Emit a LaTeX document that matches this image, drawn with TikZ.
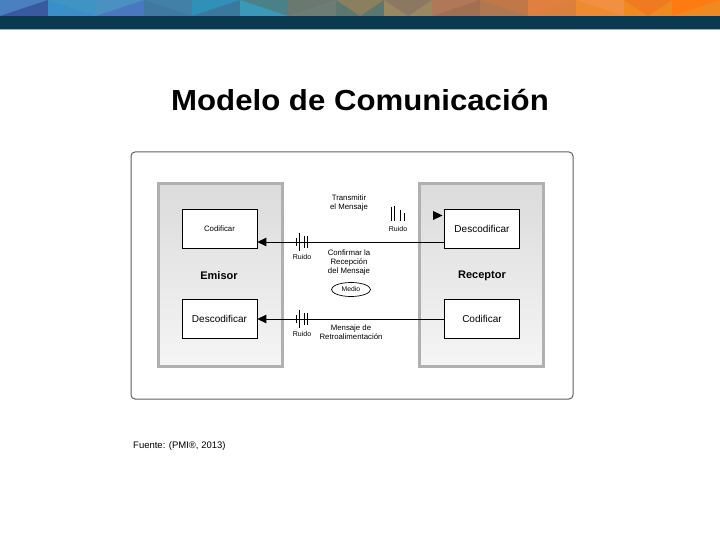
\documentclass[tikz,border=0pt]{standalone}
\usepackage{fontspec}
\setmainfont{Liberation Sans}
\usetikzlibrary{arrows.meta,shapes.geometric}
\definecolor{navy}{HTML}{0B3A50}
\definecolor{framegray}{HTML}{606060}
\definecolor{panelborder}{HTML}{B0B0B0}
\begin{document}
\begin{tikzpicture}[x=1pt,y=-1pt,
  panel/.style={draw=panelborder,line width=3pt,top color=black!14,bottom color=black!4,minimum width=124,minimum height=182,inner sep=0},
  codebox/.style={draw=black,line width=0.7pt,fill=white,minimum width=75,minimum height=39,inner sep=0,font=\fontsize{10}{12}\selectfont},
  small/.style={font=\fontsize{7.8}{9}\selectfont,align=center,inner sep=0},
  role/.style={font=\bfseries\fontsize{11}{13}\selectfont,inner sep=0},
  arr/.style={line width=0.8pt,-{Triangle[length=9pt,width=8.5pt]}},
  noiseline/.pic={\draw[line width=0.8pt] (-6,-4)--(-6,4) (-2.5,-9)--(-2.5,9) (2,-6)--(2,6) (5.5,-6)--(5.5,6);},
  noisetop/.pic={\draw[line width=0.8pt] (-7,-7)--(-7,7) (-3.5,-8)--(-3.5,7) (2,-4)--(2,7) (6,-1)--(6,7);}
]
\useasboundingbox (0,0) rectangle (720,540);
% banner
\foreach \i/\a/\b/\t in {0/4A80C0/3A5AA0/1,1/3A8FC8/4094C4/2,2/4A90C0/4A78C0/1,3/3F78A0/4280A8/2,4/3090B8/3A78A0/1,5/3A98B8/4A8088/2,6/6A7870/6F7C74/1,7/5A7870/8A8060/3,8/9A8860/8A7860/3,9/B07858/A07050/1,10/B07850/C07848/2,11/E08040/D8803C/1,12/F08A30/F09040/2,13/F08A20/F07A20/3,14/FF7A10/F08A20/1}{
  \definecolor{ta}{HTML}{\a}\definecolor{tb}{HTML}{\b}
  \fill[ta] (48*\i,0) rectangle (48*\i+48,16);
  \ifnum\t=1 \fill[tb] (48*\i,16) -- (48*\i+48,0) -- (48*\i+48,16) -- cycle; \fi
  \ifnum\t=2 \fill[tb] (48*\i,0) -- (48*\i+48,0) -- (48*\i+48,16) -- cycle; \fi
  \ifnum\t=3 \fill[tb] (48*\i,0) -- (48*\i+24,16) -- (48*\i+48,0) -- cycle; \fi
}
\fill[navy] (0,16) rectangle (720,29);
\fill[navy!40] (0,29) rectangle (720,30);
% title
\node[font=\bfseries\fontsize{29}{34}\selectfont,inner sep=0,anchor=base] (title) at (360,111) {\scalebox{1.075}[1]{Modelo de Comunicación}};
% frame
\node[draw=framegray,line width=1pt,rounded corners=4pt,minimum width=442,minimum height=247,inner sep=0] (frame) at (352,275.5) {};
% panels
\node[panel] (em) at (220,275) {};
\node[panel] (re) at (481.5,275) {};
\node[role] (emt) at (219,275.5) {Emisor};
\node[role] (ret) at (482,275.5) {Receptor};
% boxes
\node[codebox,font=\fontsize{7.8}{9}\selectfont] (cl1) at (219.5,228.5) {Codificar};
\node[codebox] (dl1) at (219.5,318.5) {Descodificar};
\node[codebox] (dr1) at (482,228.5) {Descodificar};
\node[codebox] (cr1) at (482,318.5) {Codificar};
% connectors
\coordinate (ya) at (0,242);
\coordinate (yb) at (0,319);
\draw[arr] (dr1.west |- ya) -- (cl1.east |- ya);
\draw[arr] (cr1.west |- yb) -- (dl1.east |- yb);
\fill (433,211) -- (442.5,215.5) -- (433,220) -- cycle;
% noise
\pic at (302,242) {noiseline};
\pic at (302,319) {noiseline};
\pic at (398,214) {noisetop};
\node[small,font=\fontsize{7}{8}\selectfont] (r1) at (302,257) {Ruido};
\node[small,font=\fontsize{7}{8}\selectfont] (r2) at (302,334) {Ruido};
\node[small,font=\fontsize{7}{8}\selectfont] (r3) at (398,229) {Ruido};
% labels
\node[small] (tm) at (349,203) {Transmitir\\el Mensaje};
\node[small] (cf) at (349,262) {Confirmar la\\Recepción\\del Mensaje};
\node[draw,line width=0.7pt,ellipse,minimum width=39,minimum height=14,inner sep=0,font=\fontsize{6.8}{8}\selectfont] (medio) at (351,289.5) {Medio};
\node[small] (mr) at (351,332.5) {Mensaje de\\Retroalimentación};
% source
\node[font=\fontsize{9.5}{11}\selectfont,anchor=west,inner sep=0] (src) at (133,446) {Fuente: (PMI®, 2013)};
\end{tikzpicture}
\end{document}
